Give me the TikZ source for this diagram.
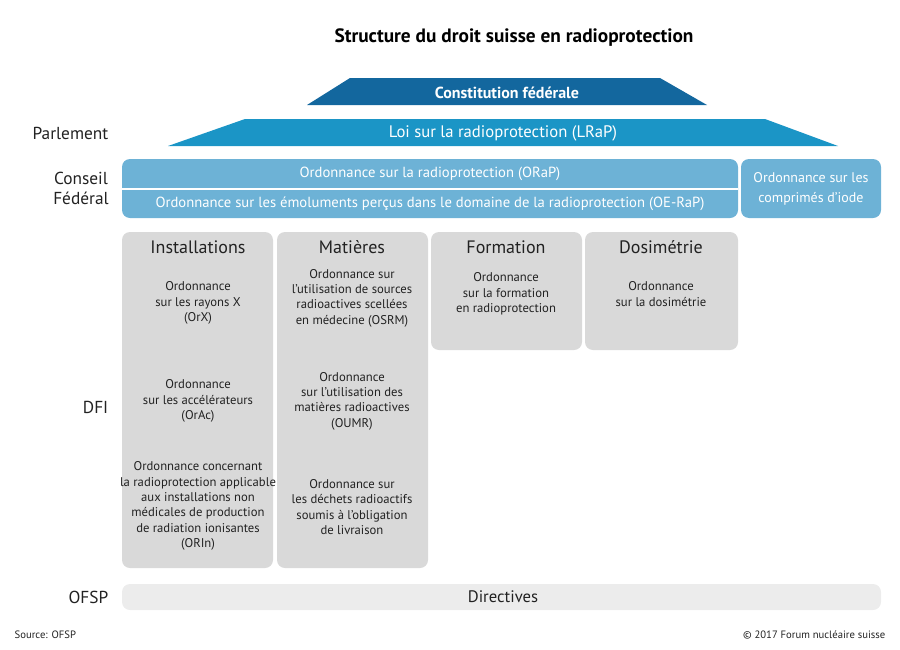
\documentclass[tikz,border=0pt]{standalone}
\usepackage{fontspec}
\setmainfont{PT Sans}
\usetikzlibrary{positioning}
\definecolor{darkblue}{HTML}{13679E}
\definecolor{midblue}{HTML}{1B95C6}
\definecolor{lightblue}{HTML}{6DB2D6}
\definecolor{boxgray}{HTML}{D9D9D9}
\definecolor{bargray}{HTML}{ECECEC}
\definecolor{txt}{HTML}{222222}
\tikzset{
  blueblock/.style={fill=lightblue, rounded corners=6pt, draw=none},
  graybox/.style={fill=boxgray, rounded corners=6pt, draw=none},
  level/.style={font=\fontsize{13}{15}\selectfont, text=txt, align=right, anchor=east},
  heading/.style={font=\fontsize{13.5}{15}\selectfont, text=txt},
  body/.style={font=\fontsize{9.5}{11.5}\selectfont, text=txt, align=center},
  white text/.style={font=\fontsize{11}{13}\selectfont, text=white, align=center}
}
\begin{document}
\begin{tikzpicture}[x=0.75pt,y=-0.75pt]
  \useasboundingbox (0,0) rectangle (900,650);
  \node[font=\bfseries\fontsize{14.5}{17}\selectfont, text=black] (title) at (514,38) {Structure du droit suisse en radioprotection};

  %% roof: constitution and law
  \fill[darkblue] (350,78) -- (660,78) -- (707,105) -- (307,105) -- cycle;
  \node[white text, font=\bfseries\fontsize{12}{14}\selectfont] (const) at (507,93) {Constitution fédérale};
  \fill[midblue] (245,119) -- (765,119) -- (838,146) -- (168,146) -- cycle;
  \node[white text, font=\fontsize{12.5}{14}\selectfont] (lrap) at (503,133) {Loi sur la radioprotection (LRaP)};

  %% federal council ordinances
  \fill[blueblock] (122,159) rectangle (738,218);
  \fill[blueblock] (741,159) rectangle (881,218);
  \draw[white, line width=1.5pt] (122,189) -- (738,189);
  \node[white text] (orap) at (430,174) {Ordonnance sur la radioprotection (ORaP)};
  \node[white text] (oerap) at (430,204) {Ordonnance sur les émoluments perçus dans le domaine de la radioprotection (OE-RaP)};
  \node[white text, font=\fontsize{10.5}{14.5}\selectfont] (iode) at (811,189) {Ordonnance sur les\\comprimés d'iode};

  %% department ordinances
  \fill[graybox] (122,232) rectangle (273,568);
  \fill[graybox] (277,232) rectangle (428,568);
  \fill[graybox] (431,232) rectangle (582,350);
  \fill[graybox] (585,232) rectangle (738,350);
  \node[heading] (inst) at (198,247) {Installations};
  \node[heading] (mat) at (352,247) {Matières};
  \node[heading] (form) at (506,247) {Formation};
  \node[heading] (dos) at (661,247) {Dosimétrie};

  \node[body] (orx) at (198,303) {Ordonnance\\sur les rayons X\\(OrX)};
  \node[body] (orac) at (198,401) {Ordonnance\\sur les accélérateurs\\(OrAc)};
  \node[body] (orin) at (198,506) {Ordonnance concernant\\la radioprotection applicable\\aux installations non\\médicales de production\\de radiation ionisantes\\(ORIn)};
  \node[body] (osrm) at (352,298) {Ordonnance sur\\l'utilisation de sources\\radioactives scellées\\en médecine (OSRM)};
  \node[body] (oumr) at (352,401) {Ordonnance\\sur l'utilisation des\\matières radioactives\\(OUMR)};
  \node[body] (dechets) at (352,507) {Ordonnance sur\\les déchets radioactifs\\soumis à l'obligation\\de livraison};
  \node[body] (oform) at (506,294) {Ordonnance\\sur la formation\\en radioprotection};
  \node[body] (odos) at (661,294) {Ordonnance\\sur la dosimétrie};

  %% directives
  \fill[bargray, rounded corners=6pt] (122,584) rectangle (881,610);
  \node[font=\fontsize{12.5}{14}\selectfont, text=txt] (dir) at (503,597) {Directives};

  %% levels
  \node[level] (parl) at (113,133) {Parlement};
  \node[level, align=center, anchor=center] (cf) at (81,188) {Conseil\\Fédéral};
  \node[level] (dfi) at (113,407) {DFI};
  \node[level] (ofsp) at (113,597) {OFSP};

  \node[font=\fontsize{8}{10}\selectfont, text=txt, anchor=west] (src) at (10,635) {Source: OFSP};
  \node[font=\fontsize{8}{10}\selectfont, text=txt, anchor=east] (copy) at (890,635) {© 2017 Forum nucléaire suisse};
\end{tikzpicture}
\end{document}
